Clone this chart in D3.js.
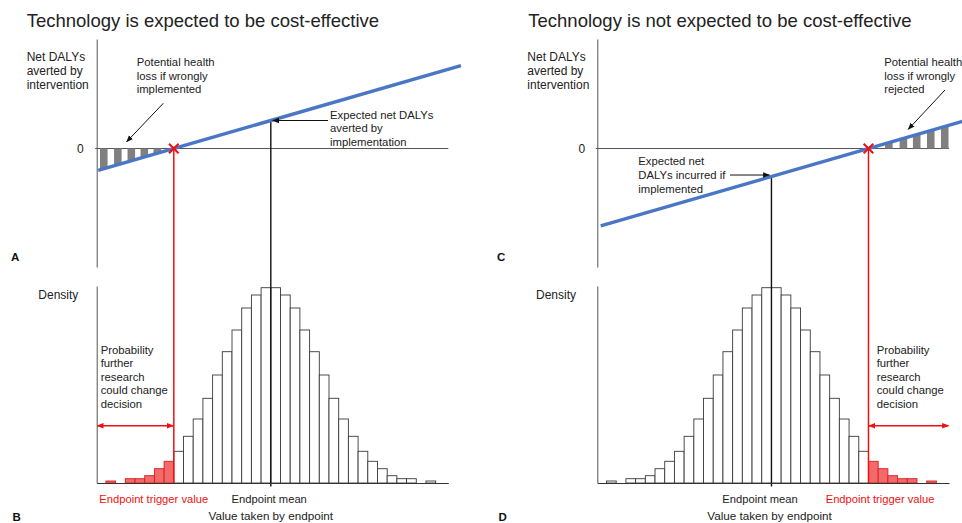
<!DOCTYPE html>
<html><head><meta charset="utf-8">
<script src="https://cdn.jsdelivr.net/npm/d3@7"></script>
<style>
body{margin:0;background:#fff;}
svg{display:block;font-family:"Liberation Sans",Arial,Helvetica,sans-serif;}
</style>
</head><body>
<svg id="chart" width="962" height="523"></svg>
<script>
// ---------------- data ----------------
const panelTitles = ["Technology is expected to be cost-effective", "Technology is not expected to be cost-effective"];
const binStarts = [-17,-16,-15,-14,-13,-12,-11,-10,-9,-8,-7,-6,-5,-4,-3,-2,-1,0,1,2,3,4,5,6,7,8,9,10,11,12,13,14,15,16];
const densityValues = [2,0,4.3,4.3,7.3,14.3,21.7,31.7,46.7,64,84.7,108,131.3,153,175,188,195.3,
                       195.3,188,175,153,131.3,108,84.7,64,46.7,31.7,21.7,14.3,7.3,4.3,4.3,0,2];
const endpointMean = 0;
const triggerValues = [-10, 10];          // left panel, right panel
const netSlope = 1;                        // net DALYs per unit of endpoint
const lineExtents = [[-17.8, 19.6], [-17.6, 20.2]];
const lossBarsLeft = [-17.22, -15.77, -14.38, -13.04, -11.7];
const lossBarsRight = [12.1, 13.6, 14.97, 16.42, 17.86];
const lossBars = [lossBarsLeft, lossBarsRight];

// ---------------- layout ----------------
const svg = d3.select("#chart");
const C_TXT = "#222";
const BLUE = "#4a76c6";
const RED = "#f01010";

const defs = svg.append("defs");
function marker(id, color){
  defs.append("marker").attr("id", id).attr("viewBox","0 0 10 10")
    .attr("refX",9).attr("refY",5).attr("markerWidth",7).attr("markerHeight",7)
    .attr("markerUnits","userSpaceOnUse").attr("orient","auto-start-reverse")
    .append("path").attr("d","M0,1 L10,5 L0,9 Z").attr("fill",color);
}
marker("arrK","#111");
marker("arrR",RED);

function multiText(g, x, baselines, lines, size, opts={}){
  const t = g.append("text").attr("font-size",size).attr("fill",opts.fill||C_TXT)
    .attr("text-anchor",opts.anchor||"start").attr("font-weight",opts.weight||"normal");
  lines.forEach((l,i)=>t.append("tspan").attr("x",x).attr("y",baselines[i]).text(l));
  return t;
}

const panels = [
  {xRange:[96.7,448.3], titleX:26.7, leftX:26.7, letterX:11, lossX:136.7,
   lossLines:["Potential health","loss if wrongly","implemented"],
   lossArrow:[[163.3,103.3],[126.7,141.7]],
   expX:330, expLines:["Expected net DALYs","averted by","implementation"], expBase:[118.5,132,145.5],
   densX:38.3, probX:100.7, trigX:99.3, meanX:269.2, axisLabelX:270.8,
   topLetter:"A", botLetter:"B", zeroPad:13},
  {xRange:[597.3,949], titleX:528.3, leftX:527.3, letterX:497, lossX:884.3,
   lossLines:["Potential health","loss if wrongly","rejected"],
   lossArrow:[[945,90],[908.3,129.3]],
   expX:638.3, expLines:["Expected net","DALYs incurred if","implemented"], expBase:[165,179,192.5],
   densX:536, probX:876.7, trigX:825.7, meanX:760, axisLabelX:769.5,
   topLetter:"C", botLetter:"D", zeroPad:12}
];

panels.forEach((p, pi) => {
  const g = svg.append("g");
  const trig = triggerValues[pi];
  const x = d3.scaleLinear().domain([-17.95, 18.3]).range(p.xRange);
  const yTop = d3.scaleLinear().domain([-42.3, 39.1]).range([267, 39]);
  const yH = d3.scaleLinear().domain([0, 197]).range([483, 286]);
  const nb = v => netSlope * (v - trig);

  // title
  g.append("text").attr("x",p.titleX).attr("y",26.7).attr("font-size",18.5).attr("fill",C_TXT)
    .text(panelTitles[pi]);

  // ---- top panel ----
  g.append("line").attr("x1",x.range()[0]-1.5).attr("x2",x.range()[1])
    .attr("y1",yTop(0)).attr("y2",yTop(0)).attr("stroke","#555").attr("stroke-width",1);
  g.selectAll("rect.loss").data(lossBars[pi]).join("rect").attr("class","loss")
    .attr("x", d => x(d-0.39)).attr("width", d => x(d+0.39)-x(d-0.39))
    .attr("y", d => yTop(Math.max(0,nb(d)))).attr("height", d => Math.abs(yTop(nb(d))-yTop(0)))
    .attr("fill","#808080");
  const axT = g.append("g").attr("transform",`translate(${x.range()[0]},0)`)
    .call(d3.axisLeft(yTop).tickValues([0]).tickSize(0).tickSizeOuter(0).tickPadding(p.zeroPad).tickFormat(d3.format("d")));
  axT.select(".domain").attr("stroke","#555");
  axT.selectAll("text").attr("font-size",12).attr("fill",C_TXT).attr("font-family","inherit").attr("dy","0.34em");

  // ---- histogram ----
  const bw = x(1)-x(0);
  const isRed = s => pi === 0 ? (s + 1 <= trig) : (s >= trig);
  g.selectAll("rect.bin").data(binStarts.map((s,i)=>({s, v:densityValues[i]})).filter(d=>d.v>0))
    .join("rect").attr("class","bin")
    .attr("x", d => x(d.s)).attr("width", bw)
    .attr("y", d => yH(d.v)).attr("height", d => yH(0)-yH(d.v))
    .attr("fill", d => isRed(d.s) ? "#f46a6a" : "#fff")
    .attr("stroke", d => isRed(d.s) ? "#d81e1e" : "#3a3a3a").attr("stroke-width",0.9);

  g.append("line").attr("x1",x(trig)).attr("x2",x(trig)).attr("y1",yTop(0)).attr("y2",yH(0))
    .attr("stroke",RED).attr("stroke-width",1.5);
  g.append("line").attr("x1",x(endpointMean)).attr("x2",x(endpointMean))
    .attr("y1",yTop(nb(endpointMean))).attr("y2",yH(0)+3.5)
    .attr("stroke","#111").attr("stroke-width",1.4);

  const ext = lineExtents[pi];
  g.append("path").datum(ext).attr("d", d3.line().x(d=>x(d)).y(d=>yTop(nb(d))))
    .attr("stroke",BLUE).attr("stroke-width",3.4).attr("fill","none");

  const cx = x(trig), cy = yTop(0), r = 4.8;
  g.append("path").attr("d",`M${cx-r},${cy-r}L${cx+r},${cy+r}M${cx-r},${cy+r}L${cx+r},${cy-r}`)
    .attr("stroke",RED).attr("stroke-width",2).attr("fill","none");

  const axH = g.append("g").attr("transform",`translate(${x.range()[0]},0)`)
    .call(d3.axisLeft(yH).tickValues([]).tickSizeOuter(0));
  axH.select(".domain").attr("stroke","#555");
  const axX = g.append("g").attr("transform",`translate(0,${yH(0)})`)
    .call(d3.axisBottom(x).tickValues([]).tickSizeOuter(0));
  axX.select(".domain").attr("stroke","#333");

  // ---- texts ----
  multiText(g, p.leftX, [61,75,89], ["Net DALYs","averted by","intervention"], 12);
  multiText(g, p.lossX, [66,79.5,93], p.lossLines, 11.3);
  g.append("line").attr("x1",p.lossArrow[0][0]).attr("y1",p.lossArrow[0][1])
    .attr("x2",p.lossArrow[1][0]).attr("y2",p.lossArrow[1][1])
    .attr("stroke","#111").attr("stroke-width",1).attr("marker-end","url(#arrK)");
  multiText(g, p.expX, p.expBase, p.expLines, 11.3);
  const my = yTop(nb(endpointMean));
  if (pi === 0) {
    g.append("line").attr("x1",328).attr("y1",my).attr("x2",x(endpointMean)+2).attr("y2",my)
      .attr("stroke","#111").attr("stroke-width",1).attr("marker-end","url(#arrK)");
  } else {
    g.append("line").attr("x1",730).attr("y1",my-1.5).attr("x2",x(endpointMean)-2).attr("y2",my-1.5)
      .attr("stroke","#111").attr("stroke-width",1).attr("marker-end","url(#arrK)");
  }
  g.append("text").attr("x",p.letterX).attr("y",260.7).attr("font-size",11.5).attr("font-weight","bold")
    .attr("fill","#111").text(p.topLetter);
  g.append("text").attr("x",p.densX).attr("y",298.5).attr("font-size",12).attr("fill",C_TXT).text("Density");
  multiText(g, p.probX, [354,367.4,380.8,394.2,407.6],
    ["Probability","further","research","could change","decision"], 11.3);
  const ay = 425.7;
  const a0 = pi === 0 ? x.range()[0] + 0.5 : x(trig) + 0.5;
  const a1 = pi === 0 ? x(trig) - 0.5 : x.range()[1] - 0.5;
  g.append("line").attr("x1",a0).attr("x2",a1).attr("y1",ay).attr("y2",ay)
    .attr("stroke",RED).attr("stroke-width",1.5)
    .attr("marker-start","url(#arrR)").attr("marker-end","url(#arrR)");
  g.append("text").attr("x",p.trigX).attr("y",503).attr("font-size",11.2).attr("fill",RED)
    .text("Endpoint trigger value");
  g.append("text").attr("x",p.meanX).attr("y",503).attr("font-size",11.2).attr("fill",C_TXT)
    .attr("text-anchor","middle").text("Endpoint mean");
  g.append("text").attr("x",p.letterX+1.5).attr("y",520.7).attr("font-size",11.5).attr("font-weight","bold")
    .attr("fill","#111").text(p.botLetter);
  g.append("text").attr("x",p.axisLabelX).attr("y",520).attr("font-size",11.7).attr("fill",C_TXT)
    .attr("text-anchor","middle").text("Value taken by endpoint");
});
</script>
</body></html>
